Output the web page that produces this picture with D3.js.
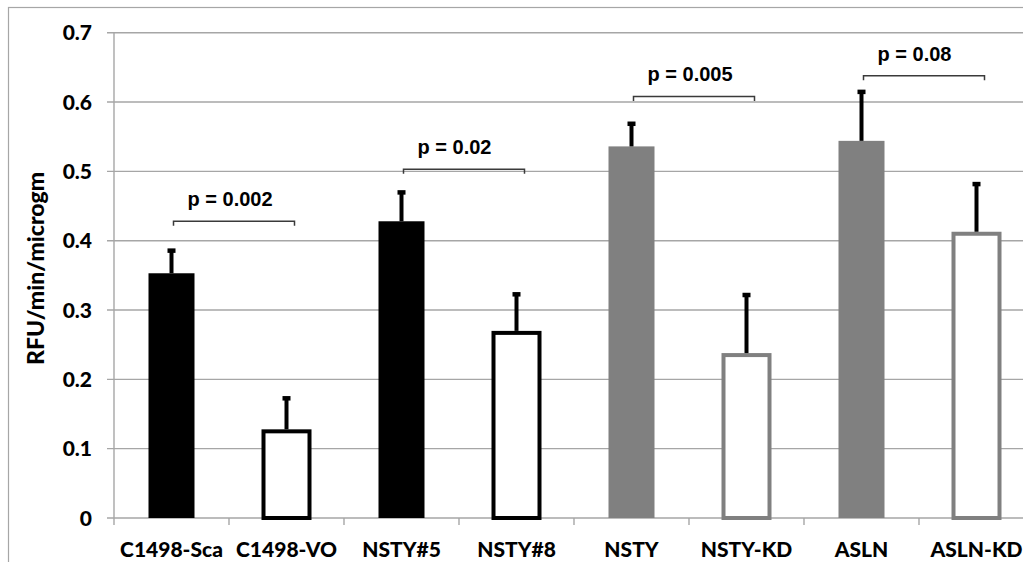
<!DOCTYPE html>
<html>
<head>
<meta charset="utf-8">
<script src="https://cdn.jsdelivr.net/npm/d3@7.9.0/dist/d3.min.js"></script>
<style>
  html, body { margin: 0; padding: 0; background: #fff; }
  svg { display: block; }
  .tick-label { font-family: Lato, "Open Sans", sans-serif; font-weight: 900; }
  .pval { font-family: "Liberation Sans", Arial, sans-serif; font-weight: bold; }
</style>
</head>
<body>
<svg id="chart" width="1023" height="562"></svg>
<script>
// data
const categories = ['C1498-Sca', 'C1498-VO', 'NSTY#5', 'NSTY#8', 'NSTY', 'NSTY-KD', 'ASLN', 'ASLN-KD'];
const means = [0.353, 0.125, 0.428, 0.267, 0.536, 0.235, 0.544, 0.410];
const errors = [0.033, 0.048, 0.042, 0.056, 0.033, 0.087, 0.071, 0.072];
const barStyle = ['solid-black', 'open-black', 'solid-black', 'open-black', 'solid-gray', 'open-gray', 'solid-gray', 'open-gray'];
const yTicks = [0, 0.1, 0.2, 0.3, 0.4, 0.5, 0.6, 0.7];
const pairs = [[0, 1], [2, 3], [4, 5], [6, 7]];
const pLabels = ['p = 0.002', 'p = 0.02', 'p = 0.005', 'p = 0.08'];
const pLevels = [0.428, 0.503, 0.608, 0.638];

const svg = d3.select('#chart');

// outer frame like the pasted figure
svg.append('rect')
    .attr('x', 8.5).attr('y', 7.5)
    .attr('width', 1100).attr('height', 600)
    .attr('fill', 'none')
    .attr('stroke', '#a6a6a6')
    .attr('stroke-width', 1.2);

const plotLeft = 114, plotBottom = 518, plotTop = 32.7;
const x = d3.scaleBand()
    .domain(categories)
    .range([plotLeft, plotLeft + 8 * 115])
    .paddingInner(0.6)
    .paddingOuter(0.3);
const y = d3.scaleLinear().domain([0, 0.7]).range([plotBottom, plotTop]);

const step = x.step();
const cx = (d) => x(d) + x.bandwidth() / 2;

// gridlines + y ticks
svg.append('g')
    .selectAll('line')
    .data(yTicks)
    .join('line')
    .attr('x1', plotLeft - 7).attr('x2', 1023)
    .attr('y1', d => y(d)).attr('y2', d => y(d))
    .attr('stroke', '#a6a6a6')
    .attr('stroke-width', 1.4);

svg.append('g')
    .selectAll('text')
    .data(yTicks)
    .join('text')
    .attr('class', 'tick-label')
    .attr('x', 92).attr('y', d => y(d) + 7.5)
    .attr('text-anchor', 'end')
    .attr('font-size', 21)
    .text(d => d === 0 ? '0' : d.toFixed(1));

// y axis line
svg.append('line')
    .attr('x1', plotLeft).attr('x2', plotLeft)
    .attr('y1', plotTop).attr('y2', plotBottom + 7)
    .attr('stroke', '#a6a6a6').attr('stroke-width', 1.4);

// x axis boundary ticks
svg.append('g')
    .selectAll('line')
    .data(categories)
    .join('line')
    .attr('x1', d => cx(d) + step / 2).attr('x2', d => cx(d) + step / 2)
    .attr('y1', plotBottom).attr('y2', plotBottom + 7)
    .attr('stroke', '#a6a6a6').attr('stroke-width', 1.4);

// y axis title
svg.append('text')
    .attr('class', 'tick-label')
    .attr('transform', `translate(44, ${y(0.36)}) rotate(-90)`)
    .attr('text-anchor', 'middle')
    .attr('font-size', 23)
    .text('RFU/min/microgm');

// bars
const fillOf = (s) => s === 'solid-black' ? '#000' : s === 'solid-gray' ? '#808080' : '#fff';
const strokeOf = (s) => s.endsWith('black') ? '#000' : '#808080';

svg.append('g')
    .selectAll('rect')
    .data(categories)
    .join('rect')
    .attr('x', d => x(d))
    .attr('width', x.bandwidth())
    .attr('y', (d, i) => y(means[i]))
    .attr('height', (d, i) => y(0) - y(means[i]))
    .attr('fill', (d, i) => fillOf(barStyle[i]))
    .attr('stroke', (d, i) => barStyle[i].startsWith('open') ? strokeOf(barStyle[i]) : 'none')
    .attr('stroke-width', 4);

// error bars (upper only)
const err = svg.append('g');
err.selectAll('line')
    .data(categories)
    .join('line')
    .attr('x1', d => cx(d)).attr('x2', d => cx(d))
    .attr('y1', (d, i) => y(means[i]) - (barStyle[i].startsWith('open') ? 2 : 0))
    .attr('y2', (d, i) => y(means[i] + errors[i]))
    .attr('stroke', '#000').attr('stroke-width', 4);
err.selectAll('rect')
    .data(categories)
    .join('rect')
    .attr('x', d => cx(d) - 4)
    .attr('y', (d, i) => y(means[i] + errors[i]) - 2)
    .attr('width', 8).attr('height', 4.5)
    .attr('fill', '#000');

// x labels
svg.append('g')
    .selectAll('text')
    .data(categories)
    .join('text')
    .attr('class', 'tick-label')
    .attr('x', d => cx(d))
    .attr('y', 557)
    .attr('text-anchor', 'middle')
    .attr('font-size', 21)
    .text(d => d);

// significance brackets
pairs.forEach(([a, b], i) => {
    const x1 = cx(categories[a]) + 2;
    const x2 = cx(categories[b]) + 8;
    const yy = y(pLevels[i]);
    svg.append('path')
        .attr('d', `M${x1},${yy + 4.5}V${yy}H${x2}V${yy + 4.5}`)
        .attr('fill', 'none')
        .attr('stroke', '#3a3a3a')
        .attr('stroke-width', 1.5);
    svg.append('text')
        .attr('class', 'pval')
        .attr('x', x1 + 14)
        .attr('y', yy - 15)
        .attr('font-size', 20)
        .text(pLabels[i]);
});
</script>
</body>
</html>
